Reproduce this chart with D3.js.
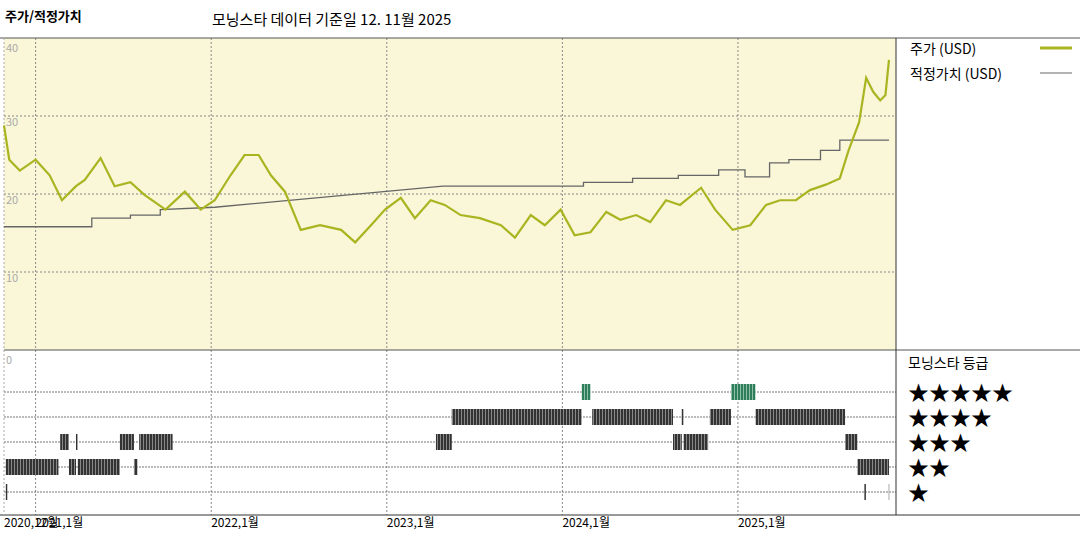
<!DOCTYPE html>
<html><head><meta charset="utf-8">
<script src="https://cdn.jsdelivr.net/npm/d3@7"></script>
<style>body{margin:0;background:#fff;font-family:"Noto Sans CJK KR",sans-serif}</style>
</head><body><svg id="c" width="1080" height="540"></svg>
<script>
// price (decimal year, USD)
const priceT = [2020.82,2020.85,2020.91,2021.00,2021.08,2021.15,2021.23,2021.28,2021.37,2021.45,2021.54,2021.62,2021.74,2021.85,2021.94,2022.02,2022.11,2022.19,2022.27,2022.34,2022.42,2022.51,2022.62,2022.74,2022.82,2022.91,2022.99,2023.08,2023.16,2023.25,2023.33,2023.42,2023.53,2023.65,2023.73,2023.82,2023.90,2023.99,2024.07,2024.16,2024.25,2024.33,2024.42,2024.50,2024.59,2024.67,2024.79,2024.87,2024.97,2025.07,2025.16,2025.24,2025.33,2025.41,2025.50,2025.58,2025.63,2025.69,2025.73,2025.77,2025.81,2025.84,2025.86];
const priceV = [28.8,24.4,23,24.4,22.4,19.2,21,21.8,24.6,21,21.5,19.9,18,20.3,18,19.2,22.4,25,25,22.4,20.3,15.4,16,15.4,13.8,16,18,19.5,16.9,19.2,18.6,17.3,16.9,16,14.4,17.3,16,18,14.7,15.1,17.7,16.7,17.3,16.4,19.2,18.6,20.8,18,15.4,16,18.6,19.2,19.2,20.5,21.2,22,25.6,29.2,34.9,33.1,32,32.7,37.2];
// fair value vertices (steps with a gradual rise 2022-2023)
const fairT = [2020.82,2021.32,2021.32,2021.54,2021.54,2021.71,2021.71,2022.02,2023.32,2024.12,2024.12,2024.40,2024.40,2024.66,2024.66,2024.89,2024.89,2025.04,2025.04,2025.18,2025.18,2025.29,2025.29,2025.47,2025.47,2025.58,2025.58,2025.86];
const fairV = [15.8,15.8,16.9,16.9,17.3,17.3,18,18.3,21,21,21.5,21.5,22,22,22.4,22.4,23.1,23.1,22.2,22.2,24,24,24.4,24.4,25.6,25.6,26.9,26.9];
// rating segments [start, end] per star level
const ratings = {
  5: [[2024.11,2024.16],[2024.96,2025.10]],
  4: [[2023.37,2024.11],[2024.17,2024.63],[2024.68,2024.69],[2024.84,2024.96],[2025.10,2025.61]],
  3: [[2021.14,2021.19],[2021.23,2021.24],[2021.48,2021.56],[2021.59,2021.78],[2023.28,2023.37],[2024.63,2024.68],[2024.69,2024.83],[2025.61,2025.68]],
  2: [[2020.83,2021.13],[2021.19,2021.23],[2021.24,2021.48],[2021.56,2021.58],[2025.68,2025.86]],
  1: [[2020.83,2020.834],[2025.72,2025.724]]
};
const yTicks = [40,30,20,10,0];
const xTicks = [["2020,12월",2020.82],["2021,1월",2021],["2022,1월",2022],["2023,1월",2023],["2024,1월",2024],["2025,1월",2025]];

const svg = d3.select("#c");
const L = 4, R = 896, T = 38, M = 350, B = 515;
const x = d3.scaleLinear().domain([2020.82, 2025.9]).range([L, R]);
const y = d3.scaleLinear().domain([0, 40]).range([M, T]);
const yr = d3.scaleLinear().domain([1, 5]).range([492, 392]);

svg.append("text").attr("x", 5).attr("y", 21).attr("font-size", 13).attr("font-weight", "bold").text("주가/적정가치");
svg.append("text").attr("x", 212).attr("y", 25).attr("font-size", 15).text("모닝스타 데이터 기준일 12. 11월 2025");

svg.append("rect").attr("x", L).attr("y", T).attr("width", R - L).attr("height", M - T).attr("fill", "#faf6d8");

// grid
svg.selectAll(".vg").data(xTicks.slice(1)).join("line")
  .attr("x1", d => x(d[1])).attr("x2", d => x(d[1])).attr("y1", T).attr("y2", B)
  .attr("stroke", "#888").attr("stroke-dasharray", "2,2");
svg.selectAll(".hg").data([30, 20, 10]).join("line")
  .attr("x1", L).attr("x2", R).attr("y1", d => y(d)).attr("y2", d => y(d))
  .attr("stroke", "#888").attr("stroke-dasharray", "2,2");
svg.selectAll(".rg").data([1, 2, 3, 4, 5]).join("line")
  .attr("x1", L).attr("x2", R).attr("y1", d => yr(d)).attr("y2", d => yr(d))
  .attr("stroke", "#777").attr("stroke-dasharray", "2,1");
svg.selectAll(".yl").data(yTicks).join("text")
  .attr("x", 6).attr("y", d => y(d) + (d === 40 ? 14 : d === 0 ? 14 : 10))
  .attr("font-size", 11).attr("fill", "#aaa").text(d => d);

// panel borders
svg.append("line").attr("x1", 0).attr("x2", 1080).attr("y1", T).attr("y2", T).attr("stroke", "#555");
svg.append("line").attr("x1", L).attr("x2", 1080).attr("y1", M).attr("y2", M).attr("stroke", "#555");
svg.append("line").attr("x1", 0).attr("x2", 1080).attr("y1", B).attr("y2", B).attr("stroke", "#333");
svg.append("line").attr("x1", R).attr("x2", R).attr("y1", T).attr("y2", B).attr("stroke", "#333");
svg.append("line").attr("x1", L).attr("x2", L).attr("y1", T).attr("y2", B).attr("stroke", "#aaa").attr("stroke-dasharray", "2,2");

// lines
const fairPts = fairT.map((t, i) => [t, fairV[i]]);
svg.append("path").datum(fairPts)
  .attr("d", d3.line().x(d => x(d[0])).y(d => y(d[1])))
  .attr("fill", "none").attr("stroke", "#666").attr("stroke-width", 1.3);
const pricePts = priceT.map((t, i) => [t, priceV[i]]);
svg.append("path").datum(pricePts)
  .attr("d", d3.line().x(d => x(d[0])).y(d => y(d[1])))
  .attr("fill", "none").attr("stroke", "#a9b520").attr("stroke-width", 2.2);

// rating bars with hatched look
const defs = svg.append("defs");
[["hatchK", "#333", "#888"], ["hatchG", "#2e7d5b", "#8fbfa8"]].forEach(([id, c1, c2]) => {
  const p = defs.append("pattern").attr("id", id).attr("width", 3).attr("height", 10).attr("patternUnits", "userSpaceOnUse");
  p.append("rect").attr("width", 3).attr("height", 10).attr("fill", c2);
  p.append("rect").attr("width", 2).attr("height", 10).attr("fill", c1);
});
Object.entries(ratings).forEach(([lvl, segs]) => {
  lvl = +lvl;
  svg.selectAll(".r" + lvl).data(segs).join("rect")
    .attr("x", d => x(d[0])).attr("width", d => Math.max(1.5, x(d[1]) - x(d[0])))
    .attr("y", yr(lvl) - 8).attr("height", 16)
    .attr("fill", lvl === 5 ? "url(#hatchG)" : "url(#hatchK)");
});
svg.append("line").attr("x1", x(2025.86)).attr("x2", x(2025.86)).attr("y1", yr(1) - 8).attr("y2", yr(1) + 8).attr("stroke", "#aaa");

// x labels
svg.selectAll(".xl").data(xTicks).join("text")
  .attr("x", d => x(d[1])).attr("y", 527).attr("font-size", 12).text(d => d[0]);

// legend
svg.append("text").attr("x", 910).attr("y", 54).attr("font-size", 14).text("주가 (USD)");
svg.append("line").attr("x1", 1040).attr("x2", 1072).attr("y1", 48).attr("y2", 48).attr("stroke", "#a9b520").attr("stroke-width", 3);
svg.append("text").attr("x", 910).attr("y", 79).attr("font-size", 14).text("적정가치 (USD)");
svg.append("line").attr("x1", 1040).attr("x2", 1072).attr("y1", 73).attr("y2", 73).attr("stroke", "#666");
svg.append("text").attr("x", 908).attr("y", 368).attr("font-size", 14).text("모닝스타 등급");
svg.selectAll(".st").data([5, 4, 3, 2, 1]).join("text")
  .attr("x", 908).attr("y", d => yr(d) + 8).attr("font-size", 21).text(d => "★".repeat(d));
</script></body></html>
